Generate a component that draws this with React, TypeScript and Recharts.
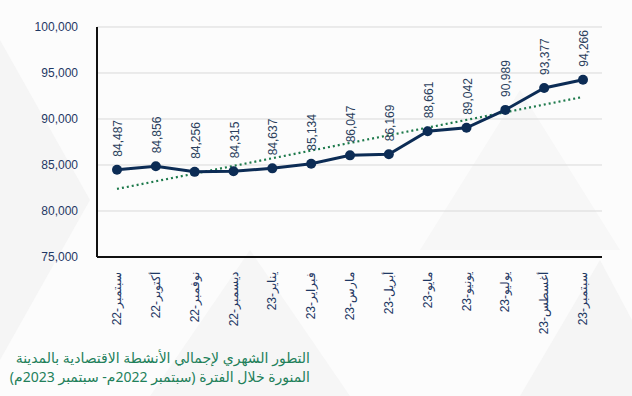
import React from 'react';
import { LineChart, Line, XAxis, YAxis, CartesianGrid, LabelList } from 'recharts';

const months = ['22-سبتمبر', '22-أكتوبر', '22-نوفمبر', '22-ديسمبر', '23-يناير', '23-فبراير', '23-مارس', '23-أبريل', '23-مايو', '23-يونيو', '23-يوليو', '23-أغسطس', '23-سبتمبر'];
const values = [84487, 84856, 84256, 84315, 84637, 85134, 86047, 86169, 88661, 89042, 90989, 93377, 94266];
const trendValues: (number | null)[] = [82400, null, null, null, null, null, null, null, null, null, null, null, 92400];
const yTicks = [75000, 80000, 85000, 90000, 95000, 100000];
const captionLines = ['التطور الشهري لإجمالي الأنشطة الاقتصادية بالمدينة', 'المنورة خلال الفترة (سبتمبر 2022م- سبتمبر 2023م)'];

const data = months.map((m, i) => ({ month: m, value: values[i], trend: trendValues[i] }));

const fmt = (v: number) => v.toLocaleString('en-US');
const FONT = 'Liberation Sans, Arial, sans-serif';

const XTick = (props: any) => {
  const { x, y, payload } = props;
  return (
    <text
      x={0}
      y={0}
      transform={`translate(${x},${y + 7}) rotate(-90)`}
      textAnchor="end"
      dominantBaseline="central"
      fill="#1f3864"
      fontSize={12}
      fontFamily={FONT}
    >
      {payload.value}
    </text>
  );
};

const ValueLabel = (props: any) => {
  const { x, y, value } = props;
  if (value == null) return null;
  return (
    <text
      x={0}
      y={0}
      transform={`translate(${x + 1},${y - 13}) rotate(-90)`}
      textAnchor="start"
      dominantBaseline="central"
      fill="#2b3f5c"
      fontSize={12}
      fontFamily={FONT}
    >
      {fmt(value)}
    </text>
  );
};

export default function App() {
  return (
    <div style={{ position: 'absolute', left: 0, top: 0, width: 632, height: 396, background: '#fcfcfc', overflow: 'hidden' }}>
      <svg width={632} height={396} style={{ position: 'absolute', left: 0, top: 0 }}>
        <polygon points="0,40 90,200 0,360" fill="#f5f5f5" />
        <polygon points="150,396 250,250 350,396" fill="#f6f6f6" />
        <polygon points="420,250 520,90 620,250" fill="#f7f7f7" />
        <polygon points="520,396 600,260 632,320 632,396" fill="#f5f5f5" />
      </svg>
      <div style={{ position: 'absolute', left: 0, top: 0 }}>
        <LineChart width={632} height={396} data={data} margin={{ top: 27, right: 30, bottom: 0, left: 0 }}>
          <CartesianGrid horizontal={true} vertical={false} stroke="#d9d9d9" />
          <XAxis
            dataKey="month"
            tick={<XTick />}
            tickLine={false}
            axisLine={{ stroke: '#111', strokeWidth: 2 }}
            interval={0}
            height={139}
            padding={{ left: 20, right: 19 }}
          />
          <YAxis
            domain={[75000, 100000]}
            ticks={yTicks}
            tickFormatter={fmt}
            tickLine={false}
            axisLine={{ stroke: '#111', strokeWidth: 2 }}
            width={97}
            tickMargin={13}
            tick={{ fill: '#1f3864', fontSize: 12, fontFamily: FONT }}
            interval={0}
          />
          <Line
            dataKey="trend"
            connectNulls
            stroke="#1e7a4c"
            strokeWidth={2.2}
            strokeDasharray="2 3"
            dot={false}
            isAnimationActive={false}
          />
          <Line
            dataKey="value"
            stroke="#0c2c55"
            strokeWidth={3}
            dot={{ r: 5, fill: '#0c2c55', stroke: '#0c2c55', strokeWidth: 0 }}
            isAnimationActive={false}
          >
            <LabelList dataKey="value" content={<ValueLabel />} />
          </Line>
        </LineChart>
      </div>
      <div
        style={{
          position: 'absolute',
          left: 10,
          top: 348,
          width: 300,
          direction: 'rtl',
          textAlign: 'right',
          color: '#22805a',
          fontSize: 14,
          lineHeight: '19px',
          fontFamily: 'Noto Sans, DejaVu Sans, sans-serif',
          whiteSpace: 'nowrap',
        }}
      >
        {captionLines[0]}
        <br />
        {captionLines[1]}
      </div>
    </div>
  );
}
